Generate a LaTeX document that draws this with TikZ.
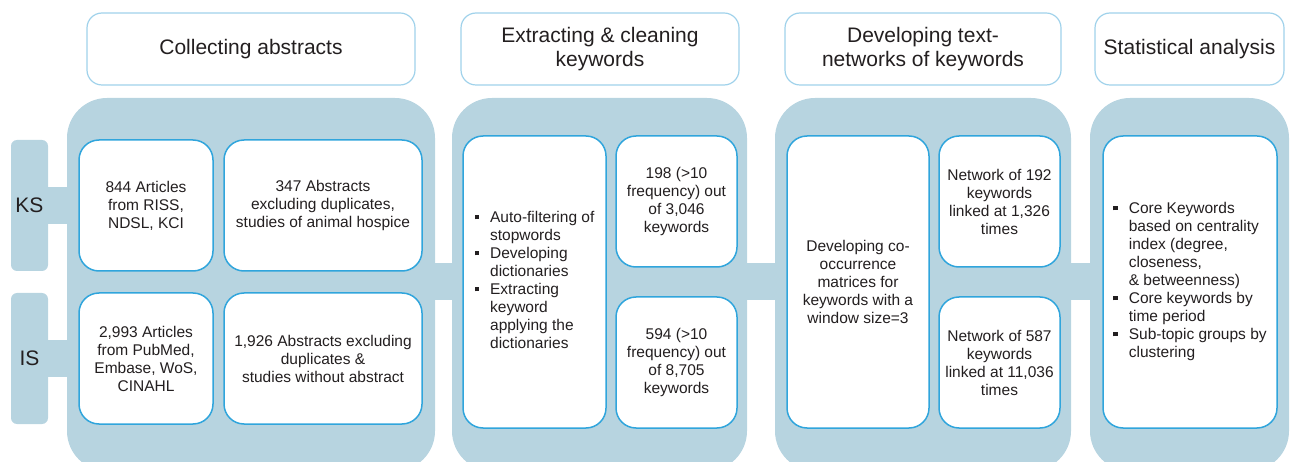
\documentclass[tikz,border=0pt]{standalone}
\usepackage{fontspec}
\setmainfont{Liberation Sans}
\definecolor{panel_blue}{RGB}{183,212,224}
\definecolor{edge_blue}{RGB}{48,165,220}
\definecolor{head_blue}{RGB}{160,210,235}
\definecolor{text_gray}{RGB}{35,31,32}
\newcommand\boxfont{\fontsize{15.5}{18}\selectfont}
\newcommand\headfont{\fontsize{21}{23.5}\selectfont}
\newcommand\sq{\raisebox{3.2pt}{\rule{4.5pt}{4.5pt}}}

\begin{document}
\begin{tikzpicture}[x=1pt,y=-1pt,text=text_gray]
    \tikzstyle{panel}=[fill=panel_blue, rounded corners=40pt, inner sep=0pt]
    \tikzstyle{head}=[draw=head_blue, line width=1.2pt, rounded corners=15pt, fill=white, align=center, font=\headfont, inner sep=0pt, minimum height=72pt]
    \tikzstyle{box}=[draw=edge_blue, line width=1.5pt, rounded corners=20pt, fill=white, align=center, font=\boxfont, inner sep=0pt]
    \tikzstyle{tab}=[fill=panel_blue, rounded corners=6pt, font=\headfont, minimum width=37pt, minimum height=131pt, inner sep=0pt]
    \tikzstyle{bar}=[draw=panel_blue, line width=37pt]

    \useasboundingbox (0,0) rectangle (1290,462);
    \clip (0,0) rectangle (1290,462);

    % step titles
    \node[head, minimum width=328pt] (h1) at (251,49)    {Collecting abstracts};
    \node[head, minimum width=278pt] (h2) at (600,49)    {Extracting \& cleaning\\keywords};
    \node[head, minimum width=276pt] (h3) at (923,49)    {Developing text-\\networks of keywords};
    \node[head, minimum width=189pt] (h4) at (1189.5,49) {Statistical analysis};

    % background panels
    \node[panel, minimum width=368pt, minimum height=373pt] (p1) at (251,284.5)    {};
    \node[panel, minimum width=295pt, minimum height=373pt] (p2) at (599.5,284.5)  {};
    \node[panel, minimum width=296pt, minimum height=373pt] (p3) at (923,284.5)    {};
    \node[panel, minimum width=199pt, minimum height=373pt] (p4) at (1189.5,284.5) {};
    \node[tab] (ks) at (29.5,205.5) {KS};
    \node[tab] (is) at (29.5,358.5) {IS};

    \coordinate (mid) at (0,281.5);
    \draw[bar] ([xshift=-2pt]ks.east) -- ([xshift=5pt]ks.east -| p1.west);
    \draw[bar] ([xshift=-2pt]is.east) -- ([xshift=5pt]is.east -| p1.west);
    \draw[bar] ([xshift=-5pt]p1.east |- mid) -- ([xshift=5pt]p2.west |- mid);
    \draw[bar] ([xshift=-5pt]p2.east |- mid) -- ([xshift=5pt]p3.west |- mid);
    \draw[bar] ([xshift=-5pt]p3.east |- mid) -- ([xshift=5pt]p4.west |- mid);

    % collecting
    \node[box, minimum width=134pt, minimum height=131pt] (a1) at (146,205.5) {844 Articles\\from RISS,\\NDSL, KCI};
    \node[box, minimum width=198pt, minimum height=131pt] (b1) at (323,205.5) {347 Abstracts\\excluding duplicates,\\studies of animal hospice};
    \node[box, minimum width=134pt, minimum height=131pt] (a2) at (146,358.5) {2,993 Articles\\from PubMed,\\Embase, WoS,\\CINAHL};
    \node[box, minimum width=198pt, minimum height=131pt] (b2) at (323,358.5) {1,926 Abstracts excluding\\duplicates \&\\studies without abstract};

    % extracting
    \node[box, minimum width=143pt, minimum height=292pt] (ex) at (534.5,282) {\begin{tabular}{@{}l@{\hspace{11pt}}l@{}}
        \sq & Auto-filtering of\\ & stopwords\\
        \sq & Developing\\ & dictionaries\\
        \sq & Extracting\\ & keyword\\ & applying the\\ & dictionaries
      \end{tabular}};
    \node[box, minimum width=121pt, minimum height=131pt] (k1) at (676.5,201.5) {198 (>10\\frequency) out\\of 3,046\\keywords};
    \node[box, minimum width=121pt, minimum height=131pt] (k2) at (676.5,362.5) {594 (>10\\frequency) out\\of 8,705\\keywords};

    % networks
    \node[box, minimum width=142pt, minimum height=292pt] (co) at (858,282) {Developing co-\\occurrence\\matrices for\\keywords with a\\window size=3};
    \node[box, minimum width=121pt, minimum height=131pt] (n1) at (999.5,201.5) {Network of 192\\keywords\\linked at 1,326\\times};
    \node[box, minimum width=121pt, minimum height=131pt] (n2) at (999.5,362.5) {Network of 587\\keywords\\linked at 11,036\\times};

    % analysis
    \node[box, minimum width=174pt, minimum height=292pt] (st) at (1190,282) {\begin{tabular}{@{}l@{\hspace{11pt}}l@{}}
        \sq & Core Keywords\\ & based on centrality\\ & index (degree,\\ & closeness,\\ & \& betweenness)\\
        \sq & Core keywords by\\ & time period\\
        \sq & Sub-topic groups by\\ & clustering
      \end{tabular}};
\end{tikzpicture}
\end{document}
